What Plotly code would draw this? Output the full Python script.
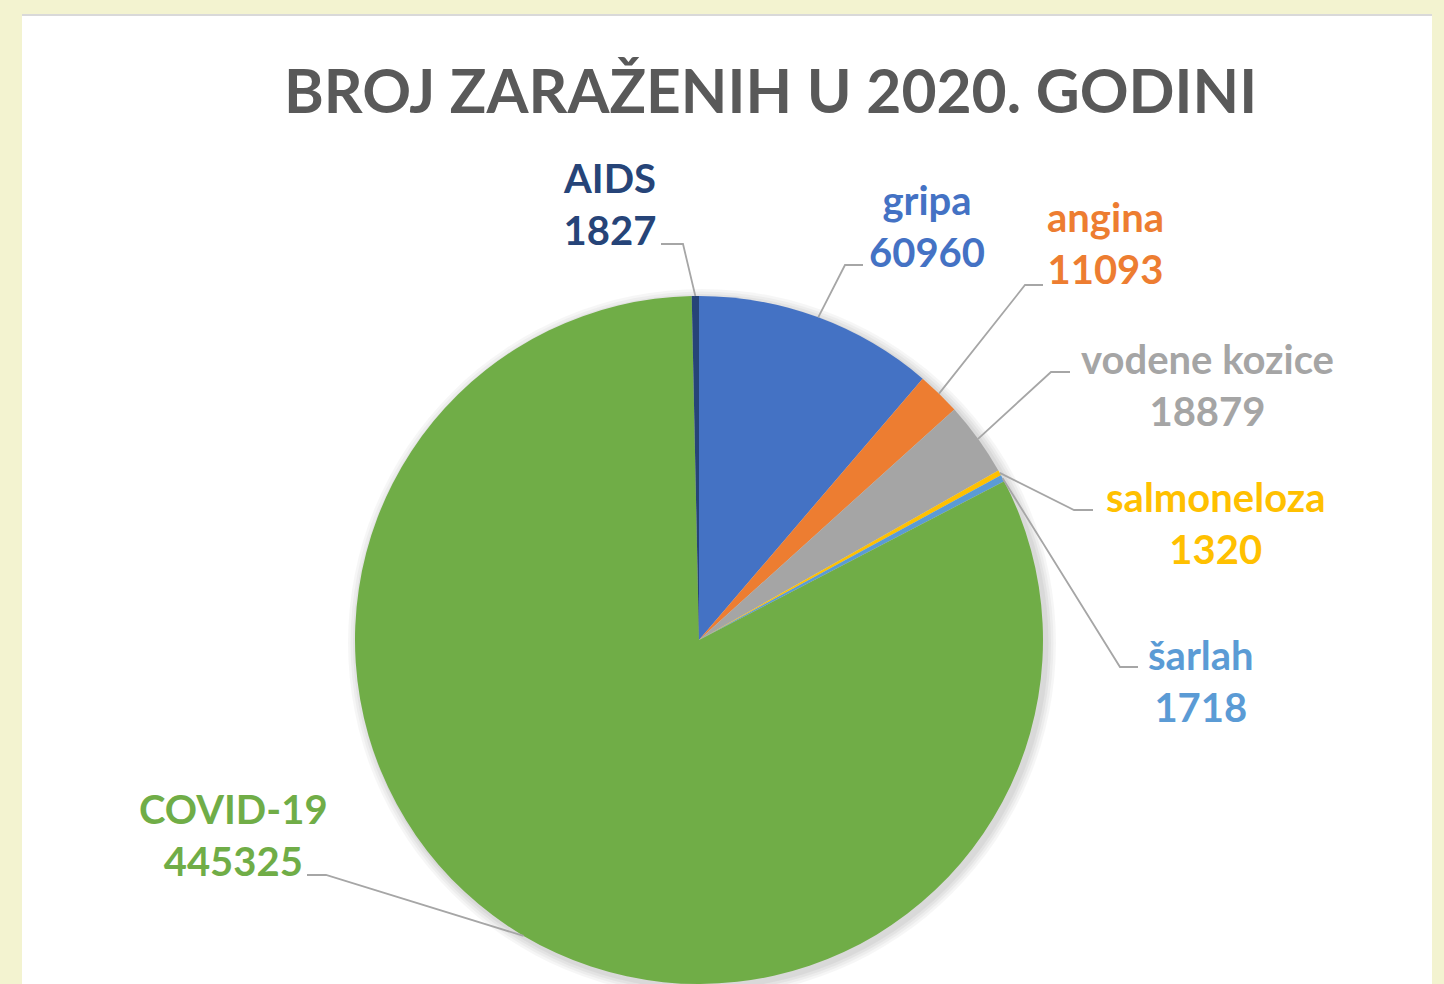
import math
import plotly.graph_objects as go

# ---- data ----
categories = ["gripa", "angina", "vodene kozice", "salmoneloza", "šarlah", "COVID-19", "AIDS"]
values = [60960, 11093, 18879, 1320, 1718, 445325, 1827]
colors = ["#4472C4", "#ED7D31", "#A5A5A5", "#FFC000", "#5B9BD5", "#70AD47", "#264478"]
title_text = "BROJ ZARAŽENIH U 2020. GODINI"

# ---- layout constants (pixels) ----
W, H = 1444, 984
CX, CY, R = 699, 640, 344

def fx(x):
    return x / W

def fy(y):
    return 1 - y / H

# label block centres and leader elbows/ends (pixels)
label_pos = {
    "gripa": (927, 226),
    "angina": (1105, 243),
    "vodene kozice": (1207, 385),
    "salmoneloza": (1215, 523),
    "šarlah": (1201, 681),
    "COVID-19": (233, 835),
    "AIDS": (609, 204),
}
leader = {
    "gripa": ((845, 265), (863, 265)),
    "angina": ((1025, 285), (1043, 285)),
    "vodene kozice": ((1051, 372), (1070, 372)),
    "salmoneloza": ((1074, 510), (1093, 510)),
    "šarlah": ((1120, 667), (1138, 667)),
    "COVID-19": ((326, 875), (307, 875)),
    "AIDS": ((683, 244), (661, 244)),
}

fig = go.Figure()
fig.add_trace(go.Pie(
    labels=categories,
    values=values,
    marker=dict(colors=colors, line=dict(width=0)),
    sort=False,
    direction="clockwise",
    rotation=0,
    textinfo="none",
    hoverinfo="label+value",
    showlegend=False,
    domain=dict(x=[fx(CX - R), fx(CX + R)], y=[fy(CY + R), fy(CY - R)]),
))

shapes = []
# white panel
shapes.append(dict(type="rect", xref="paper", yref="paper",
                   x0=fx(22), x1=fx(1432), y0=0, y1=fy(15),
                   fillcolor="white", line=dict(width=0), layer="below"))
shapes.append(dict(type="line", xref="paper", yref="paper",
                   x0=fx(22), x1=fx(1432), y0=fy(15), y1=fy(15),
                   line=dict(color="#D9D9D9", width=2), layer="below"))
# soft shadow around pie
for i, op in enumerate([0.035, 0.035, 0.04, 0.045]):
    rr = R + 10 - i * 2.5
    ox, oy = 3, 3
    shapes.append(dict(type="circle", xref="paper", yref="paper",
                       x0=fx(CX + ox - rr), x1=fx(CX + ox + rr),
                       y0=fy(CY + oy + rr), y1=fy(CY + oy - rr),
                       fillcolor="#000000", opacity=op, line=dict(width=0), layer="below"))

# leader lines computed from slice mid-angles
total = sum(values)
cum = 0.0
annotations = []
for cat, val, col in zip(categories, values, colors):
    mid = (cum + val / 2) / total * 2 * math.pi
    cum += val
    sx = CX + R * math.sin(mid)
    sy = CY - R * math.cos(mid)
    (ex, ey), (tx, ty) = leader[cat]
    shapes.append(dict(type="path", xref="paper", yref="paper",
                       path=f"M {fx(sx)},{fy(sy)} L {fx(ex)},{fy(ey)} L {fx(tx)},{fy(ty)}",
                       line=dict(color="#A6A6A6", width=1.8)))
    lx, ly = label_pos[cat]
    annotations.append(dict(
        x=fx(lx), y=fy(ly), xref="paper", yref="paper",
        text=f"{cat}<br>{val}", showarrow=False, align="center",
        xanchor="center", yanchor="middle",
        font=dict(family="Lato", size=40, color=col, weight="bold"),
    ))

annotations.append(dict(
    x=fx(770), y=fy(89), xref="paper", yref="paper",
    text=title_text, showarrow=False, xanchor="center", yanchor="middle",
    font=dict(family="Lato", size=60.5, color="#595959", weight="bold"),
))

fig.update_layout(
    width=W, height=H,
    margin=dict(l=0, r=0, t=0, b=0),
    paper_bgcolor="#F3F3D0",
    plot_bgcolor="#F3F3D0",
    shapes=shapes,
    annotations=annotations,
)

fig.write_html("out.html", config={"displayModeBar": False},
               post_script="document.body.style.margin='0';document.body.style.overflow='hidden';")
